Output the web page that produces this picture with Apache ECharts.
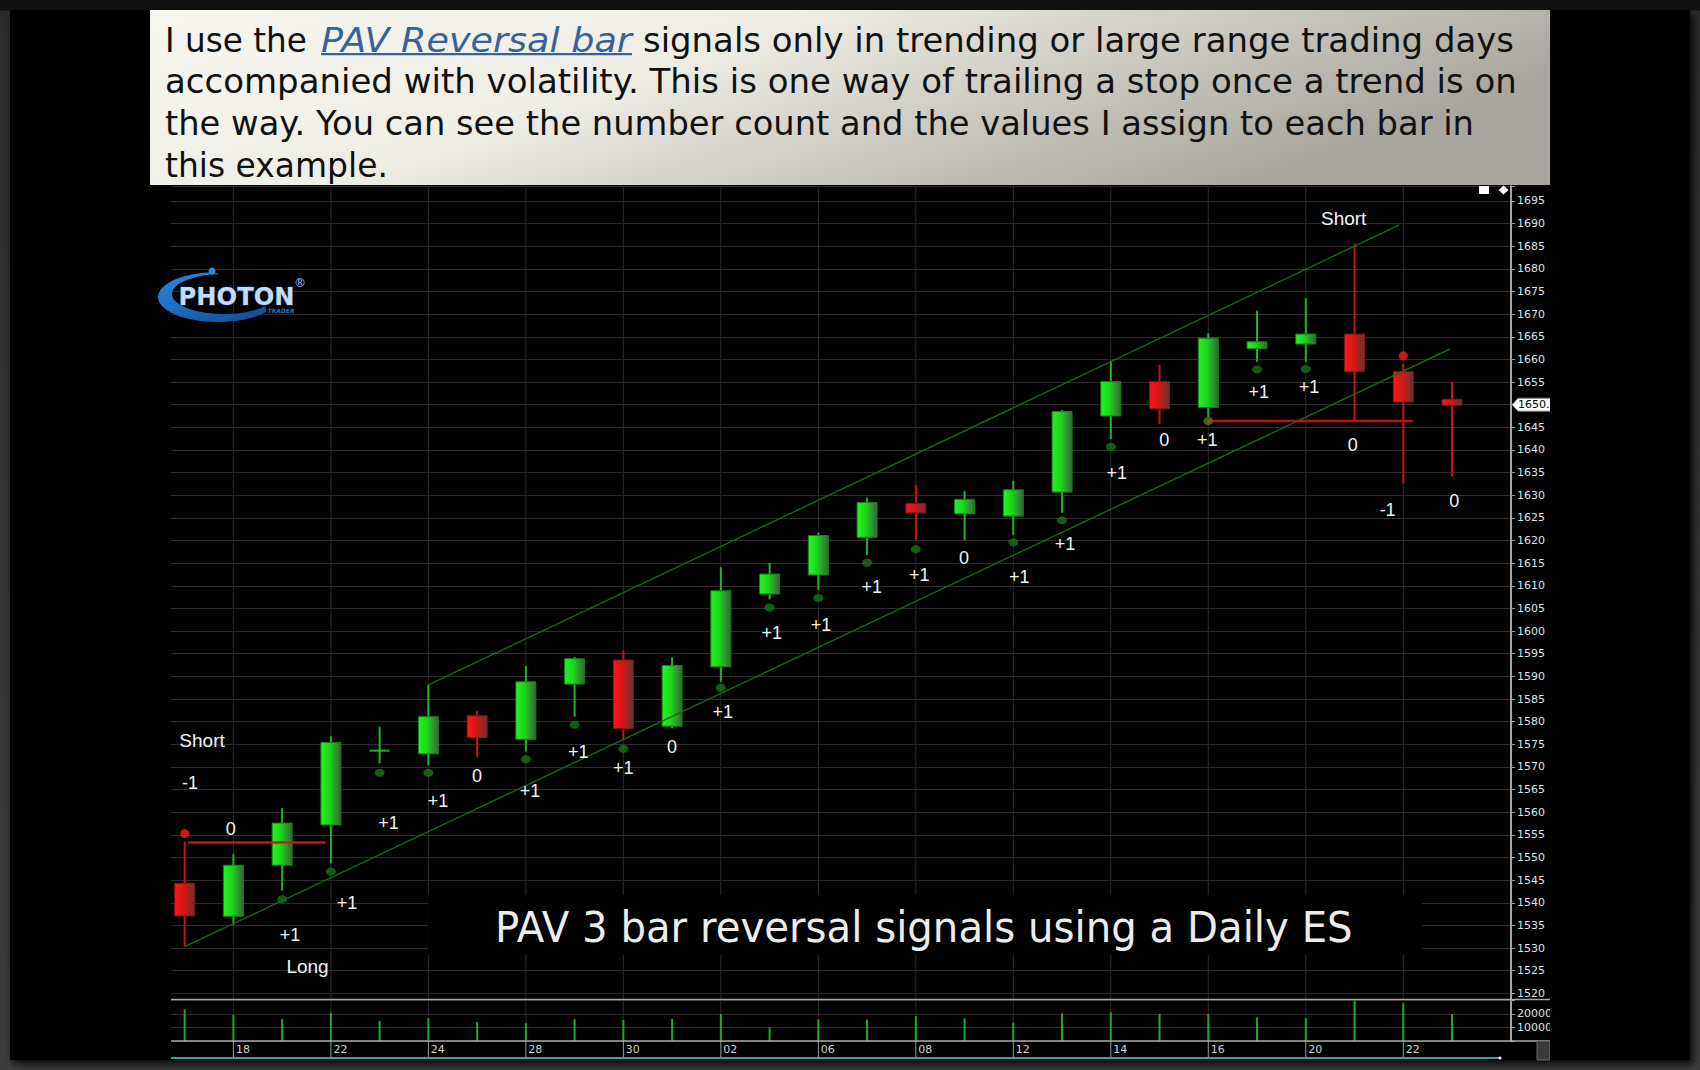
<!DOCTYPE html>
<html>
<head>
<meta charset="utf-8">
<script src="https://cdn.jsdelivr.net/npm/echarts@6/dist/echarts.min.js"></script>
<style>
  html, body { margin: 0; padding: 0; background: #3a3a3a; overflow: hidden; }
  #frame { position: absolute; left: 0; top: 0; width: 1700px; height: 1070px;
           background: linear-gradient(to bottom, #121212 0px, #121212 10px, #2c2c2c 11px, #3e3e3e 100%); }
  #panel { position: absolute; left: 10px; top: 10px; width: 1680px; height: 1050px; background: #000;
           box-shadow: 3px 4px 8px rgba(0,0,0,0.9); }
  #c { position: absolute; left: 0; top: 0; width: 1700px; height: 1070px; }
</style>
</head>
<body>
<div id="frame"></div>
<div id="panel"></div>
<div id="c"></div>
<script>
// ---------------- data ----------------
const dates   = ['17','18','19','22','23','24','25','28','29','30','01','02','03','06','07','08','09','12','13','14','15','16','17','20','21','22','23'];
const opens   = [1544.3,1537.0,1548.3,1557.2,1573.6,1572.9,1581.3,1576.1,1588.3,1593.6,1579.0,1592.1,1608.2,1612.4,1620.7,1628.2,1625.9,1625.4,1630.7,1647.5,1655.1,1649.4,1662.4,1663.4,1665.6,1657.3,1651.2];
const closes  = [1537.1,1548.3,1557.6,1575.4,1573.6,1581.1,1576.5,1588.8,1593.9,1578.5,1592.4,1608.9,1612.6,1621.1,1628.4,1626.1,1629.1,1631.2,1648.5,1655.1,1649.1,1664.7,1663.9,1665.6,1657.3,1650.6,1649.9];
const lows    = [1530.3,1535.1,1542.7,1548.7,1570.8,1570.4,1572.1,1573.4,1581.1,1575.9,1578.5,1588.8,1607.0,1609.1,1616.8,1620.1,1620.1,1621.2,1626.1,1642.4,1645.7,1647.3,1659.5,1659.5,1646.6,1632.6,1634.2];
const highs   = [1553.5,1550.8,1560.9,1576.8,1578.9,1588.1,1582.4,1592.3,1594.3,1595.7,1594.2,1614.1,1615.1,1621.7,1629.5,1632.3,1631.0,1633.2,1648.8,1659.7,1658.8,1665.8,1670.8,1673.5,1685.6,1659.0,1655.1];
const volumes = [23300,19100,16200,20800,14700,16700,14000,13000,16200,15400,16400,19900,10000,15900,15900,18400,16700,13500,20300,21100,19900,19900,17400,16700,29600,27700,19900];
const lastPrice = 1650.0;

// signal dots [bar index, price]
const longDots  = [[2,1540.8],[3,1546.9],[4,1568.7],[5,1568.7],[7,1571.7],[8,1579.3],[9,1574.0],[11,1587.5],[12,1605.2],[13,1607.3],[14,1615.1],[15,1618.1],[17,1619.6],[18,1624.5],[19,1640.7],[22,1657.8],[23,1657.9]];
const shortDots = [[0,1555.3],[25,1660.8]];
const entryDots = [[21,1646.4]];

// trend channel and stop lines [bar index, price]
const channelLower = [[0,1530.3],[25.96,1662.3]];
const channelUpper = [[5,1588.1],[24.92,1689.7]];
const stopLine1    = [[0.07,1553.3],[2.89,1553.3]];
const stopLine2    = [[21,1646.4],[25.2,1646.4]];

// bar count annotations
const annText = ['Short','-1','0','+1','Long','+1','+1','+1','0','+1','+1','+1','0','+1','+1','+1','+1','+1','0','+1','+1','+1','0','+1','+1','+1','0','Short','-1','0'];
const annX    = [0.357,0.111,0.946,2.162,2.521,3.331,4.183,5.198,5.998,7.085,8.076,8.999,9.998,11.038,12.043,13.054,14.095,15.071,15.988,17.122,18.059,19.120,20.097,20.978,22.033,23.065,23.961,23.777,24.679,26.045];
const annP    = [1575.9,1566.4,1556.3,1532.9,1526.0,1540.0,1557.6,1562.5,1568.0,1564.7,1573.4,1569.8,1574.5,1582.2,1599.5,1601.3,1609.8,1612.4,1616.1,1612.0,1619.2,1635.0,1642.1,1642.2,1652.9,1653.8,1641.2,1691.1,1626.7,1628.8];

const titlePieces = [
  { text: 'I use the', line: 0, x0: 165, x1: 307 },
  { text: 'PAV Reversal bar', line: 0, x0: 321, x1: 632, link: true },
  { text: 'signals only in trending or large range trading days', line: 0, x0: 643, x1: 1514 },
  { text: 'accompanied with volatility. This is one way of trailing a stop once a trend is on', line: 1, x0: 165, x1: 1518 },
  { text: 'the way. You can see the number count and the values I assign to each bar in', line: 2, x0: 165, x1: 1474 },
  { text: 'this example.', line: 3, x0: 165, x1: 388 }
];
const caption = 'PAV 3 bar reversal signals using a Daily ES';

// ---------------- layout ----------------
const X_MIN = -0.28, X_MAX = 27.21;
const P_MIN = 1518.75, P_MAX = 1698.3;
const V_MAX = 30880;
const gridIdx = dates.map((d, i) => i).filter(i => i % 2 === 1);

const mctx = document.createElement('canvas').getContext('2d');
function measure(text, font) { mctx.font = font; return mctx.measureText(text).width; }

const TFONT = '"DejaVu Sans", "Noto Sans", sans-serif';
const titleBaselines = [50.5, 91.5, 133.5, 175.5];
const graphics = [];

// title box
graphics.push({
  type: 'rect', z: 100, shape: { x: 150, y: 10, width: 1400, height: 175 },
  style: { fill: new echarts.graphic.LinearGradient(0, 0, 1, 0.35, [
    { offset: 0, color: '#f7f6f0' }, { offset: 0.42, color: '#eeede6' }, { offset: 1, color: '#a8a69e' }]) }
});
titlePieces.forEach(p => {
  const font = (p.link ? 'italic ' : '') + '33px ' + TFONT;
  const w = measure(p.text, font);
  graphics.push({
    type: 'text', z: 101, x: p.x0, y: titleBaselines[p.line] - 10, scaleX: (p.x1 - p.x0) / w,
    style: { text: p.text, font: font, fill: p.link ? '#37629c' : '#111111', align: 'left', verticalAlign: 'middle' }
  });
  if (p.link) {
    graphics.push({ type: 'rect', z: 101, shape: { x: p.x0, y: 53, width: p.x1 - p.x0, height: 2.2 }, style: { fill: '#37629c' } });
  }
});

// caption box
(function () {
  const font = '42px ' + TFONT;
  const w = measure(caption, font);
  graphics.push({ type: 'rect', z: 100, shape: { x: 428, y: 895, width: 994, height: 60 }, style: { fill: '#000' } });
  graphics.push({ type: 'text', z: 101, x: 495, y: 941 - 13.5, scaleX: (1353 - 495) / w,
    style: { text: caption, font: font, fill: '#ececec', align: 'left', verticalAlign: 'middle' } });
})();

// clip right of chart image
graphics.push({ type: 'rect', z: 100, shape: { x: 1550, y: 186, width: 140, height: 874 }, style: { fill: '#000' } });

// pane frame lines
graphics.push({ type: 'line', z: 50, shape: { x1: 171, y1: 999.5, x2: 1550, y2: 999.5 }, style: { stroke: '#a8a8a8', lineWidth: 1.5 } });
graphics.push({ type: 'line', z: 50, shape: { x1: 171, y1: 1041, x2: 1550, y2: 1041 }, style: { stroke: '#a8a8a8', lineWidth: 1.5 } });
graphics.push({ type: 'line', z: 50, shape: { x1: 171, y1: 1058, x2: 1500, y2: 1058 }, style: { stroke: '#3f9ea4', lineWidth: 2 } });
graphics.push({ type: 'circle', z: 50, shape: { cx: 1500, cy: 1058, r: 1.5 }, style: { fill: '#ffffff' } });
graphics.push({ type: 'rect', z: 50, shape: { x: 1537, y: 1041, width: 13, height: 19 }, style: { fill: '#3a3a3a', stroke: '#6a6a6a', lineWidth: 1 } });

// top-right icons
graphics.push({ type: 'rect', z: 50, shape: { x: 1479, y: 186, width: 10, height: 8 }, style: { fill: '#ffffff' } });
graphics.push({ type: 'polygon', z: 50, shape: { points: [[1503.5, 185.5], [1508.5, 190], [1503.5, 194.5], [1498.5, 190]] }, style: { fill: '#ffffff' } });

// logo (crescent swoosh made of two elliptical arcs)
(function () {
  const pts = [];
  for (let t = 265; t >= 37; t -= 4) {
    const r = t * Math.PI / 180;
    pts.push([218 + 60 * Math.cos(r), 297 + 25 * Math.sin(r)]);
  }
  for (let t = 37; t <= 265; t += 4) {
    const r = t * Math.PI / 180;
    pts.push([224 + 52 * Math.cos(r), 294 + 20 * Math.sin(r)]);
  }
  graphics.push({ type: 'polygon', z: 50, shape: { points: pts },
    style: { fill: new echarts.graphic.LinearGradient(0, 0, 1, 1, [{ offset: 0, color: '#2a8ae0' }, { offset: 1, color: '#0c4a92' }]) } });
})();
graphics.push({ type: 'circle', z: 50, shape: { cx: 212, cy: 271, r: 3.5 }, style: { fill: '#2a86d8' } });
(function () {
  const font = 'bold 25px ' + TFONT;
  const w = measure('PHOTON', font);
  graphics.push({ type: 'text', z: 51, x: 178.6, y: 296, scaleX: 116 / w,
    style: { text: 'PHOTON', font: font, fill: '#c6dcf6', stroke: '#0b3a78', lineWidth: 1, align: 'left', verticalAlign: 'middle' } });
})();
graphics.push({ type: 'text', z: 51, x: 300, y: 283, style: { text: '®', font: '12px ' + TFONT, fill: '#a8c8f0', align: 'center', verticalAlign: 'middle' } });
graphics.push({ type: 'text', z: 51, x: 281, y: 310, style: { text: 'TRADER', font: 'italic bold 6px ' + TFONT, fill: '#3a70b0', align: 'center', verticalAlign: 'middle' } });

// ---------------- render helpers ----------------
const GREEN_GRAD = new echarts.graphic.LinearGradient(0, 0, 1, 0, [{ offset: 0, color: '#1dfa1d' }, { offset: 0.45, color: '#1ed21e' }, { offset: 1, color: '#3b623b' }]);
const RED_GRAD = new echarts.graphic.LinearGradient(0, 0, 1, 0, [{ offset: 0, color: '#ff1616' }, { offset: 0.45, color: '#d41616' }, { offset: 1, color: '#663434' }]);

function candleItem(params, api) {
  const i = api.value(0), o = api.value(1), c = api.value(2), lo = api.value(3), hi = api.value(4);
  const bw = api.size([1, 0])[0] * 0.41;
  const pO = api.coord([i, o]), pC = api.coord([i, c]), pL = api.coord([i, lo]), pH = api.coord([i, hi]);
  const x = pO[0];
  const up = c >= o;
  const wick = up ? '#22b422' : '#c81414';
  const children = [{ type: 'line', shape: { x1: x, y1: pH[1], x2: x, y2: pL[1] }, style: { stroke: wick, lineWidth: 2 } }];
  const top = Math.min(pO[1], pC[1]);
  const h = Math.abs(pO[1] - pC[1]);
  if (h < 1.5) {
    children.push({ type: 'line', shape: { x1: x - bw / 2, y1: top, x2: x + bw / 2, y2: top }, style: { stroke: wick, lineWidth: 2 } });
  } else {
    children.push({ type: 'rect', shape: { x: x - bw / 2, y: top, width: bw, height: h },
      style: { fill: up ? GREEN_GRAD : RED_GRAD, stroke: up ? '#178017' : '#801717', lineWidth: 1 } });
  }
  return { type: 'group', children: children };
}

function vGridItem(params, api) {
  const cs = params.coordSys;
  const x = api.coord([api.value(0), api.value(1)])[0];
  return { type: 'line', shape: { x1: x, y1: cs.y, x2: x, y2: cs.y + cs.height }, style: { stroke: '#2c2c2c', lineWidth: 1 } };
}

function dateItem(params, api) {
  const cs = params.coordSys;
  const i = api.value(0);
  const x = api.coord([i, 0])[0];
  const b = cs.y + cs.height;
  return { type: 'group', children: [
    { type: 'line', shape: { x1: x, y1: cs.y, x2: x, y2: b }, style: { stroke: '#2c2c2c', lineWidth: 1 } },
    { type: 'line', shape: { x1: x, y1: b, x2: x, y2: b + 17 }, style: { stroke: '#9c9c9c', lineWidth: 1 } },
    { type: 'text', x: x + 2.5, y: b + 8, style: { text: dates[i], font: '11px "DejaVu Sans", sans-serif', fill: '#d2d2d2', align: 'left', verticalAlign: 'middle' } }
  ] };
}

function volumeItem(params, api) {
  const p0 = api.coord([api.value(0), 0]);
  const p1 = api.coord([api.value(0), api.value(1)]);
  return { type: 'rect', shape: { x: p0[0] - 1, y: p1[1], width: 2, height: p0[1] - p1[1] }, style: { fill: '#1faa1f' } };
}

function annItem(params, api) {
  const p = api.coord([api.value(0), api.value(1)]);
  const t = annText[params.dataIndex];
  const word = t.length > 2;
  return { type: 'text', x: p[0], y: p[1],
    style: { text: t, font: (word ? '19px' : '18px') + ' "Liberation Sans", Arial, sans-serif', fill: '#f4f4f4', align: 'center', verticalAlign: 'middle' } };
}

function tagItem(params, api) {
  const cs = params.coordSys;
  const y = api.coord([api.value(0), api.value(1)])[1];
  const x = cs.x + cs.width;
  return { type: 'group', children: [
    { type: 'polygon', shape: { points: [[x + 1, y], [x + 7, y - 6.5], [x + 48, y - 6.5], [x + 48, y + 6.5], [x + 7, y + 6.5]] },
      style: { fill: '#ffffff', stroke: '#7a7a7a', lineWidth: 1 } },
    { type: 'text', x: x + 7, y: y, style: { text: api.value(1).toFixed(1), font: '11px "DejaVu Sans", sans-serif', fill: '#000', align: 'left', verticalAlign: 'middle' } }
  ] };
}

const lineSeries = (data, color, width) => ({
  type: 'line', xAxisIndex: 0, yAxisIndex: 0, data: data, symbol: 'none', z: 4, silent: true,
  lineStyle: { color: color, width: width }, animation: false
});

// ---------------- option ----------------
const option = {
  backgroundColor: 'transparent',
  animation: false,
  grid: [
    { left: 171, right: 189, top: 186, height: 813 },
    { left: 171, right: 189, top: 999, height: 42 }
  ],
  xAxis: [
    { type: 'value', gridIndex: 0, min: X_MIN, max: X_MAX, show: false },
    { type: 'value', gridIndex: 1, min: X_MIN, max: X_MAX, show: false }
  ],
  yAxis: [
    { type: 'value', gridIndex: 0, position: 'right', min: P_MIN, max: P_MAX, minInterval: 5, maxInterval: 5, splitNumber: 36,
      axisLine: { show: true, onZero: false, lineStyle: { color: '#dcdcdc', width: 1.5 } },
      axisTick: { show: true, length: 4, lineStyle: { color: '#9a9a9a' } },
      axisLabel: { color: '#dde2ea', fontSize: 11, fontFamily: 'DejaVu Sans', margin: 6,
        formatter: v => (Math.abs(v / 5 - Math.round(v / 5)) < 1e-6 && Math.abs(v - lastPrice) > 2 ? String(Math.round(v)) : '') },
      splitLine: { show: true, lineStyle: { color: '#2c2c2c', width: 1 } } },
    { type: 'value', gridIndex: 1, position: 'right', min: 0, max: V_MAX, minInterval: 10000, maxInterval: 10000,
      axisLine: { show: true, onZero: false, lineStyle: { color: '#dcdcdc', width: 1.5 } },
      axisTick: { show: true, length: 4, lineStyle: { color: '#9a9a9a' } },
      axisLabel: { color: '#dde2ea', fontSize: 11, fontFamily: 'DejaVu Sans', margin: 6,
        formatter: v => (v === 10000 || v === 20000 ? String(v) : '') },
      splitLine: { show: true, lineStyle: { color: '#2a2a2a', width: 1 } } }
  ],
  graphic: { elements: graphics },
  series: [
    { type: 'custom', xAxisIndex: 0, yAxisIndex: 0, z: 1, silent: true, renderItem: vGridItem,
      data: gridIdx.map(i => [i, P_MIN]), encode: { x: 0, y: 1 } },
    { type: 'custom', xAxisIndex: 1, yAxisIndex: 1, z: 1, silent: true, renderItem: dateItem, clip: false,
      data: gridIdx.map(i => [i, 0]), encode: { x: 0, y: 1 } },
    { type: 'custom', xAxisIndex: 1, yAxisIndex: 1, z: 3, silent: true, renderItem: volumeItem,
      data: volumes.map((v, i) => [i, v]), encode: { x: 0, y: 1 } },
    { type: 'custom', xAxisIndex: 0, yAxisIndex: 0, z: 3, silent: true, renderItem: candleItem,
      data: dates.map((d, i) => [i, opens[i], closes[i], lows[i], highs[i]]), encode: { x: 0, y: [1, 2, 3, 4] } },
    lineSeries(channelLower, '#1c661c', 1.4),
    lineSeries(channelUpper, '#1c661c', 1.4),
    lineSeries(stopLine1, '#c81818', 2.6),
    lineSeries(stopLine2, '#b81212', 2.4),
    { type: 'scatter', xAxisIndex: 0, yAxisIndex: 0, z: 5, silent: true, data: longDots, symbol: 'circle', symbolSize: [10, 8],
      itemStyle: { color: '#187418' } },
    { type: 'scatter', xAxisIndex: 0, yAxisIndex: 0, z: 5, silent: true, data: shortDots, symbol: 'circle', symbolSize: 9,
      itemStyle: { color: '#ff1c1c' } },
    { type: 'scatter', xAxisIndex: 0, yAxisIndex: 0, z: 5, silent: true, data: entryDots, symbol: 'circle', symbolSize: [10, 8],
      itemStyle: { color: '#6e6e20' } },
    { type: 'custom', xAxisIndex: 0, yAxisIndex: 0, z: 6, silent: true, renderItem: annItem, clip: false,
      data: annText.map((t, k) => [annX[k], annP[k]]), encode: { x: 0, y: 1 } },
    { type: 'custom', xAxisIndex: 0, yAxisIndex: 0, z: 6, silent: true, renderItem: tagItem, clip: false,
      data: [[X_MAX, lastPrice]], encode: { x: 0, y: 1 } }
  ]
};

const chart = echarts.init(document.getElementById('c'), null, { renderer: 'svg', width: 1700, height: 1070 });
chart.setOption(option);
</script>
</body>
</html>
